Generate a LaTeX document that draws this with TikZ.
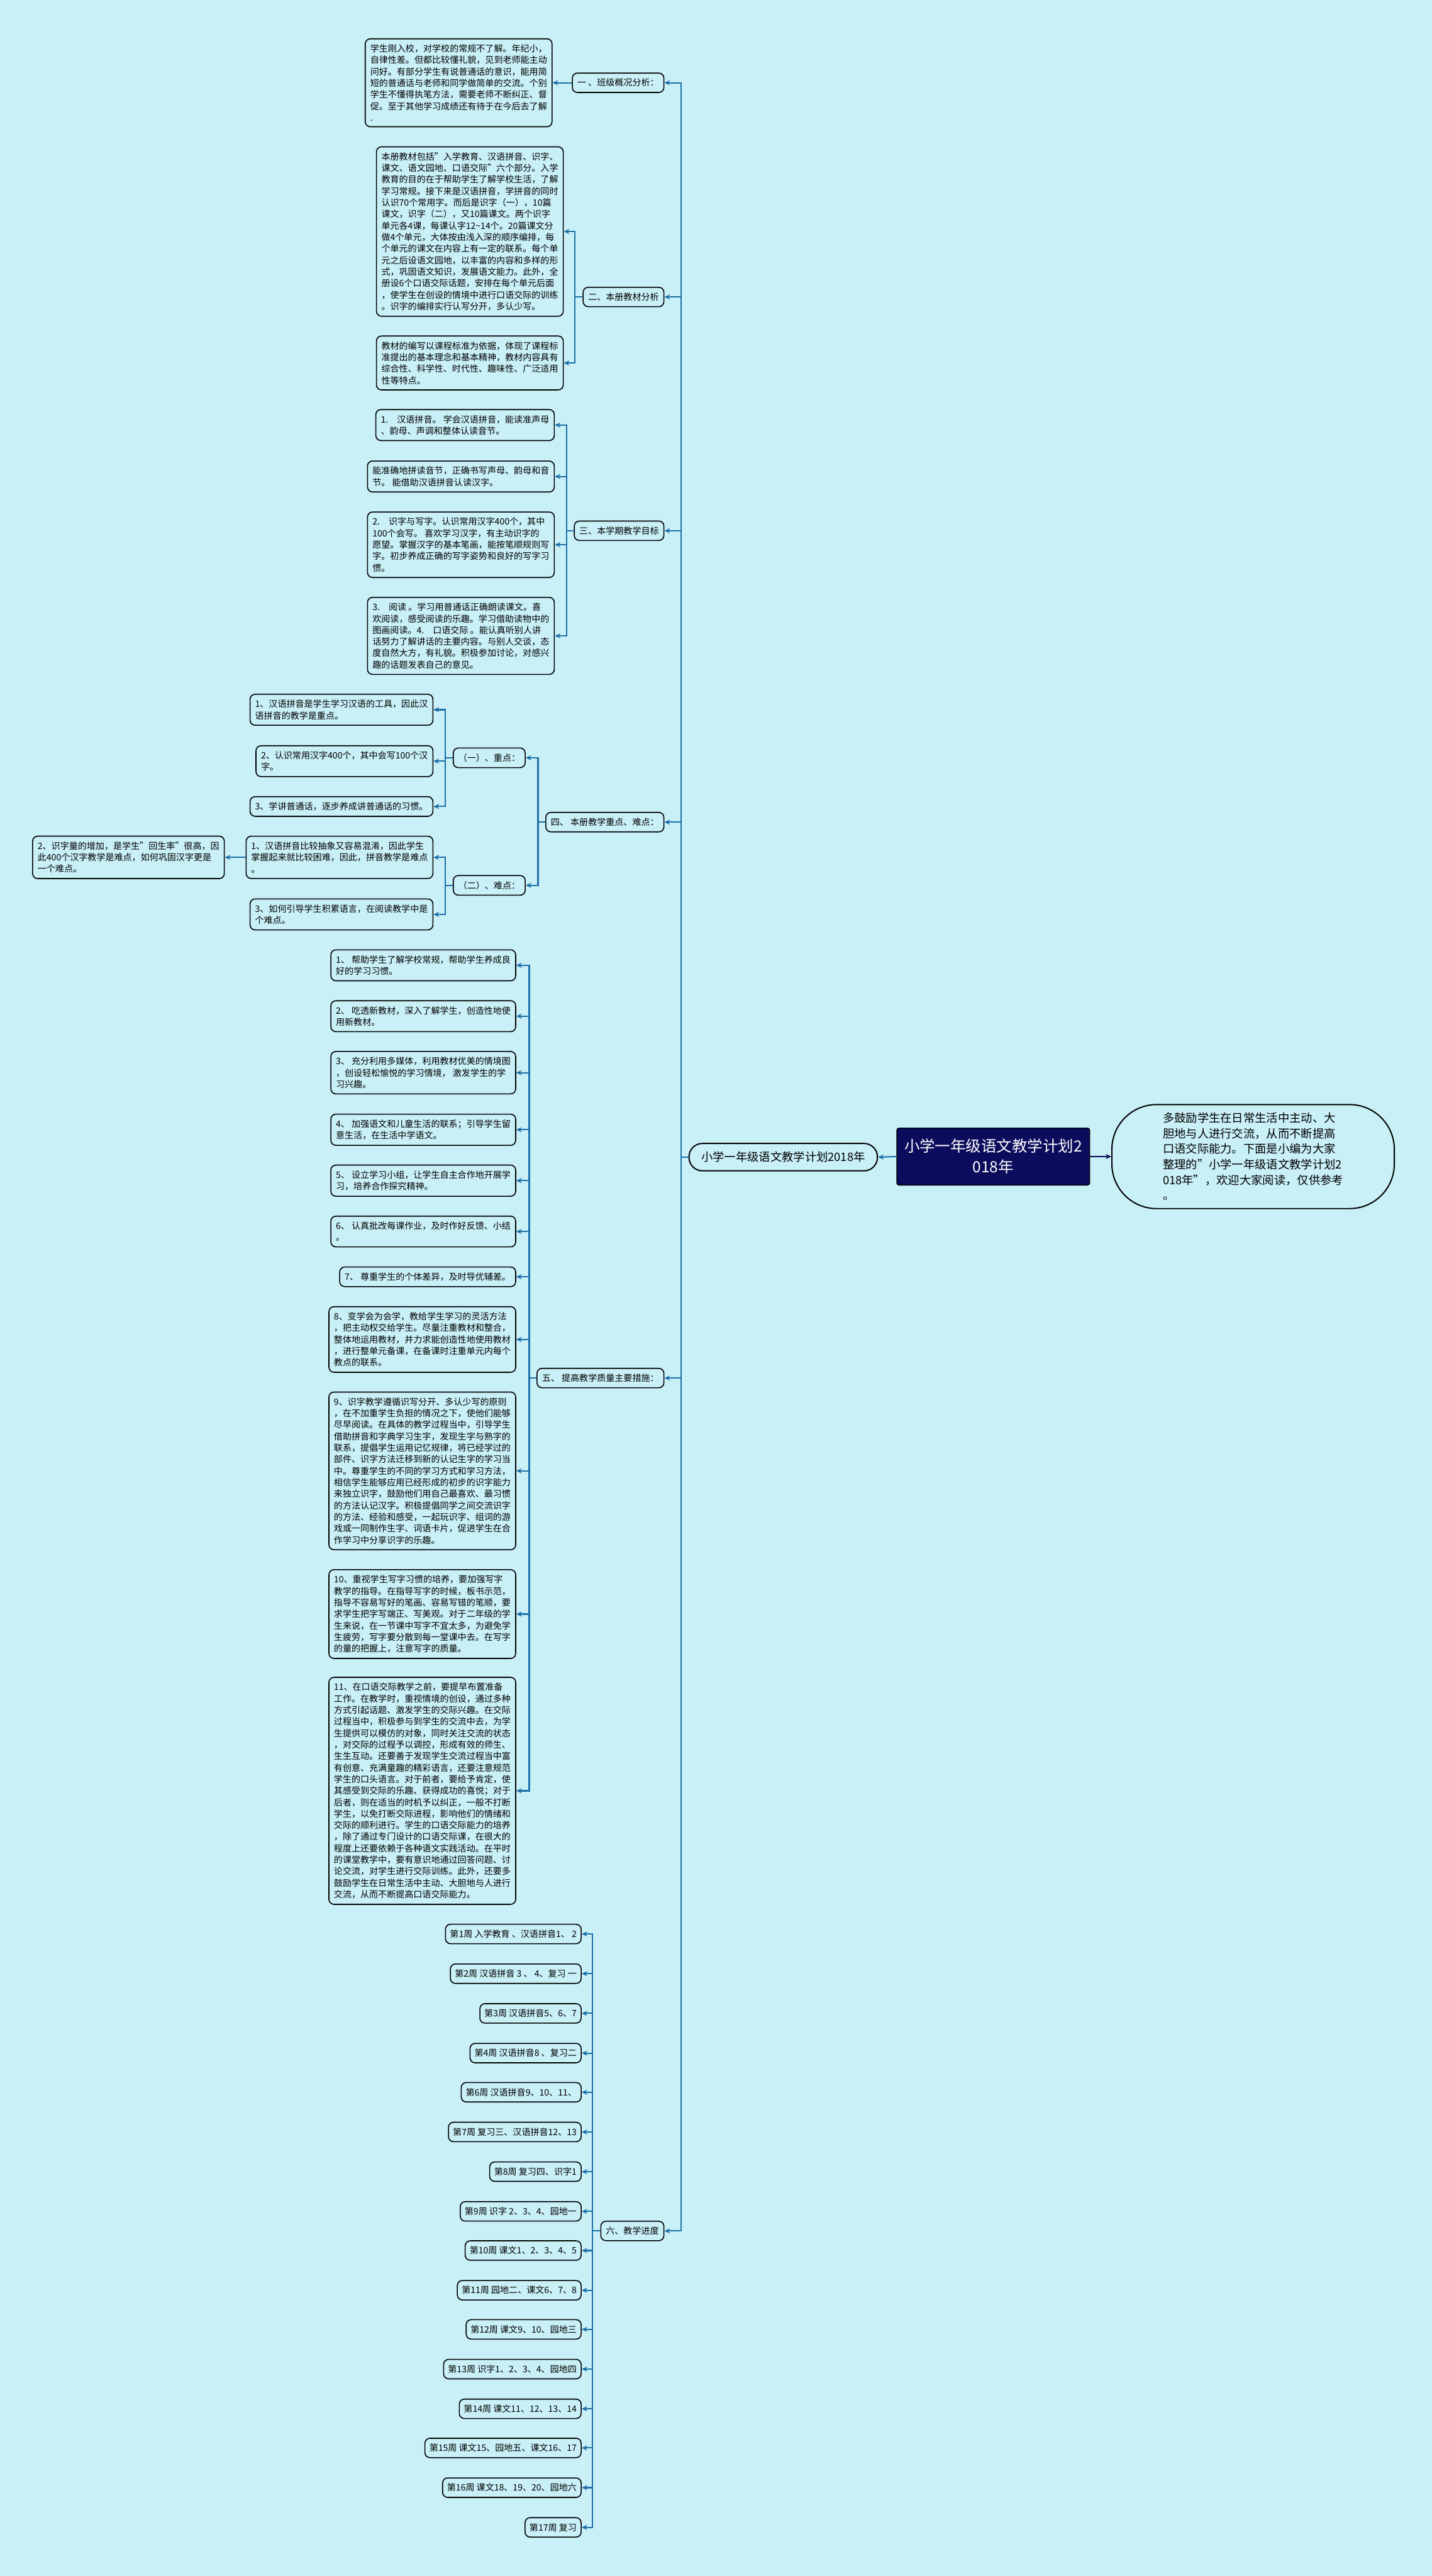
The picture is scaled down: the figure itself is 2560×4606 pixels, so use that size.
\documentclass[tikz,border=0pt]{standalone}
\usepackage{fontspec}
\setmainfont{Noto Sans CJK SC}
\usepackage{tikz}
\usetikzlibrary{arrows.meta}
\definecolor{bgcyan}{RGB}{201,239,247}
\definecolor{linkblue}{RGB}{28,112,168}
\definecolor{rootnavy}{RGB}{12,12,92}
\tikzset{% boxes and links of the map
        leaf/.style={draw=black, line width=1.8pt, rounded corners=9pt, fill=bgcyan,
          inner xsep=9pt, inner ysep=10pt, align=left, anchor=east,
          font=\fontsize{15.8}{20.6}\selectfont},
        week/.style={leaf, inner xsep=8pt},
        conn/.style={draw=linkblue, line width=2.4pt, -{Stealth[length=10pt,width=9pt]}}
        }

\begin{document}
\begin{tikzpicture}[x=1pt,y=-1pt]
\fill[bgcyan] (0,0) rectangle (2560,4606);
\useasboundingbox (0,0) rectangle (2560,4606);

\node [fill=rootnavy, draw=black, line width=1.5pt, rounded corners=4pt, text=white, align=center, minimum width=345pt, minimum height=102pt, font=\fontsize{27.5}{37}\selectfont] (root) at (1776,2068) {小学一年级语文教学计划2\\018年};
\node [draw=black, line width=2.2pt, rounded corners=24pt, fill=bgcyan, anchor=east, inner xsep=22pt, minimum height=49pt, font=\fontsize{20.6}{26}\selectfont] (mid) at (1570,2069) {小学一年级语文教学计划2018年};
\node [draw=black, line width=2.2pt, rounded corners=80pt, fill=bgcyan, anchor=west, align=left, minimum width=505pt, minimum height=186pt, font=\fontsize{20.6}{27.7}\selectfont] (note) at (1987,2068) {多鼓励学生在日常生活中主动、大\\胆地与人进行交流，从而不断提高\\口语交际能力。下面是小编为大家\\整理的"小学一年级语文教学计划2\\018年"，欢迎大家阅读，仅供参考\\。};

\node [leaf] (banji) at (1188,148) {一 、班级概况分析：};
\node [leaf] (jiaocai) at (1188,531) {二、本册教材分析};
\node [leaf] (mubiao) at (1188,949) {三、本学期教学目标};
\node [leaf] (zhongnan) at (1188,1470) {四、 本册教学重点、难点：};
\node [leaf] (cuoshi) at (1188,2464) {五、 提高教学质量主要措施：};
\node [leaf] (jindu) at (1188,3989) {六、教学进度};

\node [leaf] (banjiT) at (988,148) {学生刚入校，对学校的常规不了解。年纪小，\\自律性差。但都比较懂礼貌，见到老师能主动\\问好。有部分学生有说普通话的意识，能用简\\短的普通话与老师和同学做简单的交流。个别\\学生不懂得执笔方法，需要老师不断纠正、督\\促。至于其他学习成绩还有待于在今后去了解\\.};

\node [leaf] (jcA) at (1008,414) {本册教材包括"入学教育、汉语拼音、识字、\\课文、语文园地、口语交际"六个部分。入学\\教育的目的在于帮助学生了解学校生活，了解\\学习常规。接下来是汉语拼音，学拼音的同时\\认识70个常用字。而后是识字（一），10篇\\课文，识字（二），又10篇课文。两个识字\\单元各4课，每课认字12\textasciitilde14个。20篇课文分\\做4个单元，大体按由浅入深的顺序编排，每\\个单元的课文在内容上有一定的联系。每个单\\元之后设语文园地，以丰富的内容和多样的形\\式，巩固语文知识，发展语文能力。此外，全\\册设6个口语交际话题，安排在每个单元后面\\，使学生在创设的情境中进行口语交际的训练\\。识字的编排实行认写分开，多认少写。};
\node [leaf] (jcB) at (1008,649) {教材的编写以课程标准为依据，体现了课程标\\准提出的基本理念和基本精神，教材内容具有\\综合性、科学性、时代性、趣味性、广泛适用\\性等特点。};

\node [leaf] (mbA) at (992,760) {1.\quad 汉语拼音。 学会汉语拼音，能读准声母\\、韵母、声调和整体认读音节。};
\node [leaf] (mbB) at (992,852) {能准确地拼读音节，正确书写声母、韵母和音\\节。 能借助汉语拼音认读汉字。};
\node [leaf] (mbC) at (992,974) {2.\quad 识字与写字。认识常用汉字400个，其中\\100个会写。 喜欢学习汉字，有主动识字的\\愿望。掌握汉字的基本笔画，能按笔顺规则写\\字。初步养成正确的写字姿势和良好的写字习\\惯。};
\node [leaf] (mbD) at (992,1137) {3.\quad 阅读 。学习用普通话正确朗读课文。喜\\欢阅读，感受阅读的乐趣。学习借助读物中的\\图画阅读。4.\quad 口语交际 。能认真听别人讲\\话努力了解讲话的主要内容。与别人交谈，态\\度自然大方，有礼貌。积极参加讨论，对感兴\\趣的话题发表自己的意见。};

\node [leaf] (zd) at (940,1355) {（一）、重点：};
\node [leaf] (nd) at (940,1583) {（二）、难点：};
\node [leaf] (zdA) at (775,1269) {1、汉语拼音是学生学习汉语的工具，因此汉\\语拼音的教学是重点。};
\node [leaf] (zdB) at (775,1361) {2、认识常用汉字400个，其中会写100个汉\\字。};
\node [leaf] (zdC) at (775,1442) {3、学讲普通话，逐步养成讲普通话的习惯。};
\node [leaf] (ndA) at (775,1533) {1、汉语拼音比较抽象又容易混淆，因此学生\\掌握起来就比较困难，因此，拼音教学是难点\\。};
\node [leaf] (ndB) at (775,1635) {3、如何引导学生积累语言，在阅读教学中是\\个难点。};
\node [leaf] (ndAx) at (402,1533) {2、识字量的增加，是学生"回生率"很高，因\\此400个汉字教学是难点，如何巩固汉字更是\\一个难点。};

\node [leaf] (cs1) at (923,1726) {1、 帮助学生了解学校常规，帮助学生养成良\\好的学习习惯。};
\node [leaf] (cs2) at (923,1817) {2、 吃透新教材，深入了解学生，创造性地使\\用新教材。};
\node [leaf] (cs3) at (923,1918) {3、 充分利用多媒体，利用教材优美的情境图\\，创设轻松愉悦的学习情境， 激发学生的学\\习兴趣。};
\node [leaf] (cs4) at (923,2020) {4、 加强语文和儿童生活的联系；引导学生留\\意生活，在生活中学语文。};
\node [leaf] (cs5) at (923,2111) {5、 设立学习小组，让学生自主合作地开展学\\习，培养合作探究精神。};
\node [leaf] (cs6) at (923,2202) {6、 认真批改每课作业，及时作好反馈、小结\\。};
\node [leaf] (cs7) at (923,2283) {7、 尊重学生的个体差异，及时导优辅差。};
\node [leaf] (cs8) at (923,2395) {8、变学会为会学，教给学生学习的灵活方法\\，把主动权交给学生。尽量注重教材和整合，\\整体地运用教材，并力求能创造性地使用教材\\，进行整单元备课，在备课时注重单元内每个\\教点的联系。};
\node [leaf] (cs9) at (923,2630) {9、识字教学遵循识写分开、多认少写的原则\\，在不加重学生负担的情况之下，使他们能够\\尽早阅读。在具体的教学过程当中，引导学生\\借助拼音和字典学习生字，发现生字与熟字的\\联系，提倡学生运用记忆规律，将已经学过的\\部件、识字方法迁移到新的认记生字的学习当\\中。尊重学生的不同的学习方式和学习方法，\\相信学生能够应用已经形成的初步的识字能力\\来独立识字，鼓励他们用自己最喜欢、最习惯\\的方法认记汉字。积极提倡同学之间交流识字\\的方法、经验和感受，一起玩识字、组词的游\\戏或一同制作生字、词语卡片，促进学生在合\\作学习中分享识字的乐趣。};
\node [leaf] (cs10) at (923,2886) {10、重视学生写字习惯的培养，要加强写字\\教学的指导。在指导写字的时候，板书示范，\\指导不容易写好的笔画、容易写错的笔顺，要\\求学生把字写端正、写美观。对于二年级的学\\生来说，在一节课中写字不宜太多，为避免学\\生疲劳，写字要分散到每一堂课中去。在写字\\的量的把握上，注意写字的质量。};
\node [leaf] (cs11) at (923,3202) {11、在口语交际教学之前，要提早布置准备\\工作。在教学时，重视情境的创设，通过多种\\方式引起话题、激发学生的交际兴趣。在交际\\过程当中，积极参与到学生的交流中去，为学\\生提供可以模仿的对象，同时关注交流的状态\\，对交际的过程予以调控，形成有效的师生、\\生生互动。还要善于发现学生交流过程当中富\\有创意、充满童趣的精彩语言，还要注意规范\\学生的口头语言。对于前者，要给予肯定，使\\其感受到交际的乐趣、获得成功的喜悦；对于\\后者，则在适当的时机予以纠正，一般不打断\\学生，以免打断交际进程，影响他们的情绪和\\交际的顺利进行。学生的口语交际能力的培养\\，除了通过专门设计的口语交际课，在很大的\\程度上还要依赖于各种语文实践活动。在平时\\的课堂教学中，要有意识地通过回答问题、讨\\论交流，对学生进行交际训练。此外，还要多\\鼓励学生在日常生活中主动、大胆地与人进行\\交流，从而不断提高口语交际能力。};

\node [week] (wk1) at (1040,3458) {第1周 入学教育 、汉语拼音1、 2};
\node [week] (wk2) at (1040,3529) {第2周 汉语拼音 3 、 4、复习 一};
\node [week] (wk3) at (1040,3600) {第3周 汉语拼音5、6、7};
\node [week] (wk4) at (1040,3671) {第4周 汉语拼音8 、复习二};
\node [week] (wk6) at (1040,3741) {第6周 汉语拼音9、10、11、};
\node [week] (wk7) at (1040,3812) {第7周 复习三、汉语拼音12、13};
\node [week] (wk8) at (1040,3883) {第8周 复习四、识字1};
\node [week] (wk9) at (1040,3954) {第9周 识字 2、3、4、园地一};
\node [week] (wk10) at (1040,4024) {第10周 课文1、2、3、4、5};
\node [week] (wk11) at (1040,4095) {第11周 园地二、课文6、7、8};
\node [week] (wk12) at (1040,4165) {第12周 课文9、10、园地三};
\node [week] (wk13) at (1040,4236) {第13周 识字1、2、3、4、园地四};
\node [week] (wk14) at (1040,4307) {第14周 课文11、12、13、14};
\node [week] (wk15) at (1040,4377) {第15周 课文15、园地五、课文16、17};
\node [week] (wk16) at (1040,4448) {第16周 课文18、19、20、园地六};
\node [week] (wk17) at (1040,4519) {第17周 复习};

% links
\draw [conn] (root.west) -- (mid.east);
\draw [conn, draw=rootnavy] (root.east) -- (note.west);
\draw [conn] (mid.west) -- ++(-13,0) |- (banji.east);
\draw [conn] (mid.west) -- ++(-13,0) |- (jiaocai.east);
\draw [conn] (mid.west) -- ++(-13,0) |- (mubiao.east);
\draw [conn] (mid.west) -- ++(-13,0) |- (zhongnan.east);
\draw [conn] (mid.west) -- ++(-13,0) |- (cuoshi.east);
\draw [conn] (mid.west) -- ++(-13,0) |- (jindu.east);

\draw [conn] (banji.west) -- (banjiT.east);
\draw [conn] (jiaocai.west) -- ++(-14,0) |- (jcA.east);
\draw [conn] (jiaocai.west) -- ++(-14,0) |- (jcB.east);
\draw [conn] (mubiao.west) -- ++(-13,0) |- (mbA.east);
\draw [conn] (mubiao.west) -- ++(-13,0) |- (mbB.east);
\draw [conn] (mubiao.west) -- ++(-13,0) |- (mbC.east);
\draw [conn] (mubiao.west) -- ++(-13,0) |- (mbD.east);

\draw [conn] (zhongnan.west) -- ++(-13,0) |- (zd.east);
\draw [conn] (zhongnan.west) -- ++(-13,0) |- (nd.east);
\draw [conn] (zd.west) -- ++(-13,0) |- (zdA.east);
\draw [conn] (zd.west) -- ++(-13,0) |- (zdB.east);
\draw [conn] (zd.west) -- ++(-13,0) |- (zdC.east);
\draw [conn] (nd.west) -- ++(-13,0) |- (ndA.east);
\draw [conn] (nd.west) -- ++(-13,0) |- (ndB.east);
\draw [conn] (ndA.west) -- (ndAx.east);

\draw [conn] (cuoshi.west) -- ++(-13,0) |- (cs1.east);
\draw [conn] (cuoshi.west) -- ++(-13,0) |- (cs2.east);
\draw [conn] (cuoshi.west) -- ++(-13,0) |- (cs3.east);
\draw [conn] (cuoshi.west) -- ++(-13,0) |- (cs4.east);
\draw [conn] (cuoshi.west) -- ++(-13,0) |- (cs5.east);
\draw [conn] (cuoshi.west) -- ++(-13,0) |- (cs6.east);
\draw [conn] (cuoshi.west) -- ++(-13,0) |- (cs7.east);
\draw [conn] (cuoshi.west) -- ++(-13,0) |- (cs8.east);
\draw [conn] (cuoshi.west) -- ++(-13,0) |- (cs9.east);
\draw [conn] (cuoshi.west) -- ++(-13,0) |- (cs10.east);
\draw [conn] (cuoshi.west) -- ++(-13,0) |- (cs11.east);

\draw [conn] (jindu.west) -- ++(-14,0) |- (wk1.east);
\draw [conn] (jindu.west) -- ++(-14,0) |- (wk2.east);
\draw [conn] (jindu.west) -- ++(-14,0) |- (wk3.east);
\draw [conn] (jindu.west) -- ++(-14,0) |- (wk4.east);
\draw [conn] (jindu.west) -- ++(-14,0) |- (wk6.east);
\draw [conn] (jindu.west) -- ++(-14,0) |- (wk7.east);
\draw [conn] (jindu.west) -- ++(-14,0) |- (wk8.east);
\draw [conn] (jindu.west) -- ++(-14,0) |- (wk9.east);
\draw [conn] (jindu.west) -- ++(-14,0) |- (wk10.east);
\draw [conn] (jindu.west) -- ++(-14,0) |- (wk11.east);
\draw [conn] (jindu.west) -- ++(-14,0) |- (wk12.east);
\draw [conn] (jindu.west) -- ++(-14,0) |- (wk13.east);
\draw [conn] (jindu.west) -- ++(-14,0) |- (wk14.east);
\draw [conn] (jindu.west) -- ++(-14,0) |- (wk15.east);
\draw [conn] (jindu.west) -- ++(-14,0) |- (wk16.east);
\draw [conn] (jindu.west) -- ++(-14,0) |- (wk17.east);
\end{tikzpicture}
\end{document}
